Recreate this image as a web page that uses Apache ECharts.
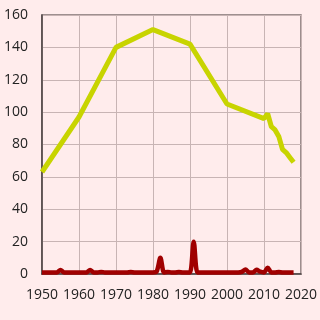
<!DOCTYPE html>
<html>
<head>
<meta charset="utf-8">
<script src="https://cdn.jsdelivr.net/npm/echarts@6/dist/echarts.min.js"></script>
<style>
  html, body { margin: 0; padding: 0; background: #ffecec; }
  #chart { width: 320px; height: 320px; }
</style>
</head>
<body>
<div id="chart"></div>
<script>
// yellow-green series
var greenYears = [1950, 1960, 1970, 1980, 1990, 2000, 2010, 2011, 2012, 2013, 2014, 2015, 2016, 2017, 2018];
var greenValues = [63, 97, 140, 151, 142, 105, 96, 99, 91, 89, 85, 77, 75, 72, 69];

// dark red series, one value per year 1950..2018
var redStartYear = 1950;
var redValues = [
  1, 1, 1, 1, 1, 2.5, 1, 1, 1, 1,        // 1950s
  1, 1, 1, 2.5, 1, 1, 1.3, 1, 1, 1,      // 1960s
  1, 1, 1, 1, 1.2, 1, 1, 1, 1, 1,        // 1970s
  1, 1.6, 10, 1, 1.3, 1, 1, 1.2, 1, 1,   // 1980s
  1, 20, 1, 1, 1, 1, 1, 1, 1, 1,         // 1990s
  1, 1, 1, 1, 1.3, 2.8, 1, 1, 2.6, 1.4,  // 2000s
  1, 3.8, 1, 1, 1.2, 1, 1, 1, 1          // 2010s
];

var xTicks = [1950, 1960, 1970, 1980, 1990, 2000, 2010, 2020];

var greenData = greenYears.map(function (y, i) { return [y, greenValues[i]]; });
var redData = redValues.map(function (v, i) { return [redStartYear + i, v]; });

var myChart = echarts.init(document.getElementById('chart'));
var option = {
  backgroundColor: '#ffecec',
  animation: false,
  grid: {
    left: 42, right: 18, top: 15, bottom: 46,
    show: true,
    borderColor: '#7f7070',
    borderWidth: 1.5
  },
  xAxis: {
    type: 'value',
    min: xTicks[0],
    max: xTicks[xTicks.length - 1],
    interval: 10,
    axisLine: { show: true, lineStyle: { color: '#4a4040', width: 1.5 } },
    axisTick: { show: false },
    axisLabel: {
      color: '#222', fontSize: 14, fontFamily: 'Open Sans', margin: 14,
      formatter: function (v) { return String(v); }
    },
    splitLine: { show: true, lineStyle: { color: '#c8b4b4', width: 1 } }
  },
  yAxis: {
    type: 'value',
    min: 0,
    max: 160,
    interval: 20,
    axisLine: { show: true, lineStyle: { color: '#4a4040', width: 1.5 } },
    axisTick: { show: false },
    axisLabel: { color: '#222', fontSize: 14, fontFamily: 'Open Sans', margin: 14 },
    splitLine: { show: true, lineStyle: { color: '#c8b4b4', width: 1 } }
  },
  series: [
    {
      type: 'line',
      data: greenData,
      showSymbol: false,
      lineStyle: { color: '#c8d400', width: 5 },
      z: 3
    },
    {
      type: 'line',
      data: redData,
      showSymbol: false,
      smooth: 0.3,
      lineStyle: { color: '#a00000', width: 4.5 },
      z: 4
    }
  ]
};
myChart.setOption(option);
</script>
</body>
</html>
